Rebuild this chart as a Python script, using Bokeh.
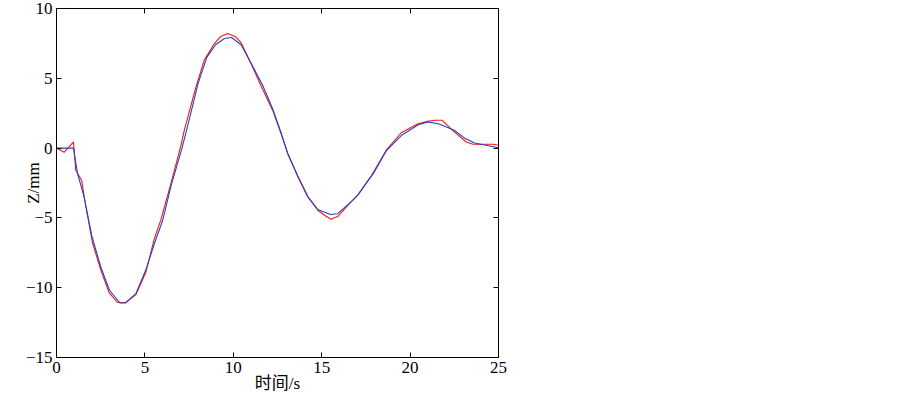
from bokeh.plotting import figure
from bokeh.models import LinearAxis, FixedTicker, Range1d
from bokeh.embed import file_html
from bokeh.resources import INLINE

# measured (red)
t_red = [0, 0.43, 0.96, 1.09, 1.42, 1.66, 2.04, 2.51, 2.98, 3.45, 3.92, 4.49, 5.06, 5.53, 5.9,
         6.47, 7.04, 7.23, 7.89, 8.36, 8.93, 9.3, 9.68, 10.1, 10.44, 11.0, 11.6, 12.23, 12.7,
         13.08, 13.65, 14.21, 14.78, 15.2, 15.53, 15.9, 16.66, 17.04, 17.8, 18.65, 19.5,
         20.44, 21.0, 21.4, 21.8, 22.5, 23.18, 23.55, 24.7, 25.0]
z_red = [0, -0.3, 0.44, -1.58, -2.3, -4.2, -6.8, -8.75, -10.37, -11.06, -11.06, -10.5, -8.87,
         -6.5, -5.16, -2.54, 0.2, 1.28, 4.38, 6.3, 7.49, 8.0, 8.21, 8.0, 7.55, 6.06, 4.38, 2.7,
         1.05, -0.39, -2.06, -3.5, -4.45, -4.85, -5.09, -4.9, -3.85, -3.37, -2.0, -0.15, 1.1,
         1.75, 1.92, 2.0, 2.0, 1.16, 0.44, 0.28, 0.28, 0.2]

# simulated (blue)
t_blue = [0, 0.96, 1.19, 1.56, 2.0, 2.5, 3.0, 3.6, 3.9, 4.5, 5.06, 5.6, 6.0, 6.5, 7.1, 7.5, 8.0,
          8.5, 9.0, 9.5, 9.9, 10.44, 11.0, 11.66, 12.23, 12.7, 13.08, 13.65, 14.21, 14.78, 15.5,
          15.9, 16.66, 17.04, 17.98, 18.65, 19.5, 20.44, 21.0, 21.6, 22.5, 23.1, 23.65, 24.5, 25.0]
z_blue = [0, 0, -1.82, -3.5, -6.3, -8.5, -10.2, -11.1, -11.1, -10.4, -8.7, -6.6, -5.2, -2.6,
          0.0, 2.0, 4.6, 6.5, 7.4, 7.85, 7.92, 7.4, 6.1, 4.5, 2.8, 1.1, -0.4, -2.0, -3.45, -4.4,
          -4.76, -4.7, -3.85, -3.37, -1.7, -0.2, 0.9, 1.65, 1.88, 1.75, 1.28, 0.7, 0.37, 0.15, 0.02]

x_ticks = [0, 5, 10, 15, 20, 25]
y_ticks = [-15, -10, -5, 0, 5, 10]
x_label = "时间/s"
y_label = "Z/mm"

SERIF = "Liberation Serif"
MIXED = "Liberation Serif, Noto Sans CJK SC"

p = figure(frame_width=442, frame_height=349, output_backend="svg", toolbar_location=None,
           x_range=Range1d(0, 25), y_range=Range1d(-15, 10),
           min_border_left=56, min_border_top=8, min_border_right=20, min_border_bottom=0)
p.xgrid.visible = False
p.ygrid.visible = False
p.outline_line_color = "black"
p.outline_line_width = 1
p.background_fill_color = "white"
p.border_fill_color = "white"

p.line(t_red, z_red, line_color="#ff1010", line_width=1.1)
p.line(t_blue, z_blue, line_color="#1f44c8", line_width=1.1)

def style(ax, ticks, show_labels=True):
    ax.ticker = FixedTicker(ticks=ticks)
    ax.major_tick_in = 5
    ax.major_tick_out = 0
    ax.minor_tick_line_color = None
    ax.major_tick_line_color = "black"
    ax.axis_line_color = "black"
    ax.major_label_text_font = SERIF
    ax.major_label_text_color = "black"
    ax.axis_label_text_font = MIXED
    ax.axis_label_text_font_style = "normal"
    ax.axis_label_text_color = "black"
    ax.major_label_text_font_size = "17px"
    if show_labels:
        ax.major_label_standoff = 4
    else:
        ax.major_label_overrides = {t: "" for t in ticks}
        ax.major_label_standoff = 0

xa = p.xaxis[0]
style(xa, x_ticks)
xa.axis_label = x_label
xa.axis_label_text_font_size = "17px"
xa.axis_label_standoff = -2

ya = p.yaxis[0]
style(ya, y_ticks)
ya.axis_label = y_label
ya.axis_label_text_font = SERIF
ya.axis_label_text_font_size = "17px"
ya.axis_label_standoff = -20

top = LinearAxis()
style(top, x_ticks, show_labels=False)
p.add_layout(top, "above")
right = LinearAxis()
style(right, y_ticks, show_labels=False)
p.add_layout(right, "right")

open("out.html", "w").write(file_html(p, INLINE))
